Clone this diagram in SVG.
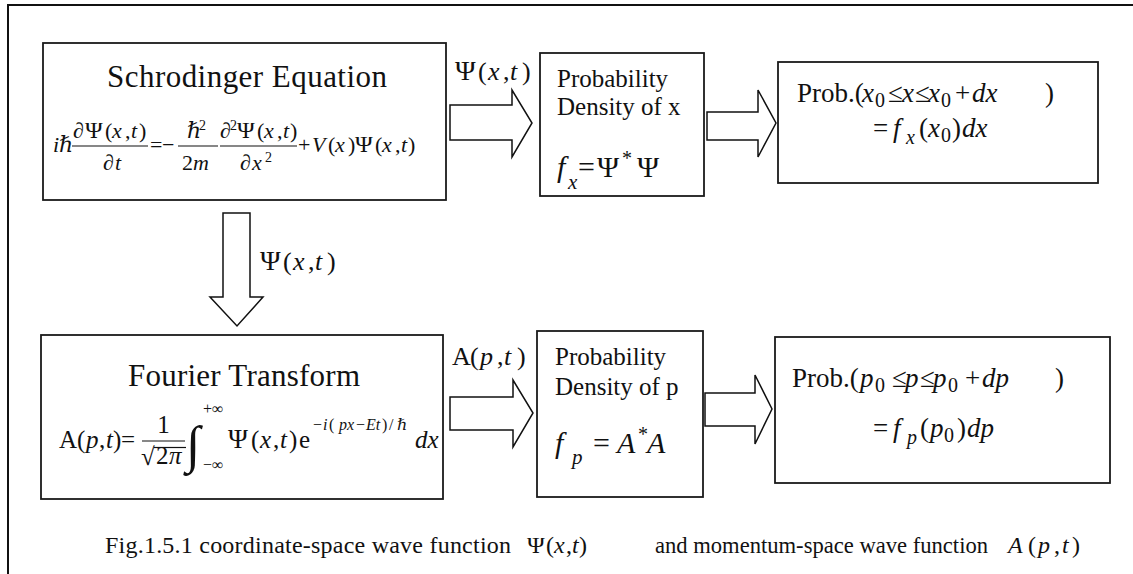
<svg xmlns="http://www.w3.org/2000/svg" width="1133" height="574" viewBox="0 0 1133 574">
<style>
text{font-family:"Liberation Serif","Times New Roman","DejaVu Serif",serif;fill:#111;}
.box{fill:#fff;stroke:#1a1a1a;stroke-width:1.8;}
.arr{fill:#fff;stroke:#111;stroke-width:1.5;stroke-linejoin:miter;}
.bar{stroke:#111;stroke-width:1.2;}
.t{font-size:31px;}
.p{font-size:25px;}
.m{font-size:22px;}
.mp{font-size:24px;}
.ms{font-size:14px;}
.mf{font-size:25px;}
.fp{font-size:27px;}
.l{font-size:26px;}
.lp{font-size:28px;}
.r{font-size:27px;}
.s{font-size:16px;}
.cap{font-size:24px;}
.i{font-style:italic;}
</style>
<rect width="1133" height="574" fill="#fff"/>
<path d="M8,574 V5 H1133" fill="none" stroke="#111" stroke-width="2"/>

<g id="connectors">
<polygon class="arr" points="450,105 512,105 512,90 532,123 512,157 512,140 450,140"/>
<polygon class="arr" points="707,112 758,112 758,90 776,123 758,157 758,140 707,140"/>
<polygon class="arr" points="223,213 250,213 250,297 263,297 237,326 210,297 223,297"/>
<polygon class="arr" points="450,397 513,397 513,380 533,413 513,447 513,430 450,430"/>
<polygon class="arr" points="705,393 755,393 755,375 772,409 755,444 755,426 705,426"/>
<text class="l" y="80"><tspan x="455" class="lp">Ψ</tspan><tspan x="478">(</tspan><tspan x="488" class="i">x</tspan><tspan x="503">,</tspan><tspan x="510" class="i">t</tspan><tspan x="522">)</tspan></text>
<text class="l" y="270"><tspan x="260" class="lp">Ψ</tspan><tspan x="283">(</tspan><tspan x="293" class="i">x</tspan><tspan x="308">,</tspan><tspan x="315" class="i">t</tspan><tspan x="327">)</tspan></text>
<text class="l" y="365"><tspan x="452">A</tspan><tspan x="470">(</tspan><tspan x="480" class="i">p</tspan><tspan x="497">,</tspan><tspan x="504" class="i">t</tspan><tspan x="517">)</tspan></text>
</g>

<g id="schrodinger">
<rect class="box" x="43" y="43" width="403" height="157"/>
<text class="t" x="107" y="87" textLength="280">Schrodinger Equation</text>
<text class="m i" y="152"><tspan x="53">i</tspan><tspan x="59">ℏ</tspan></text>
<text class="m" y="138"><tspan x="73">∂</tspan><tspan x="85" class="mp">Ψ</tspan><tspan x="105">(</tspan><tspan x="112" class="i">x</tspan><tspan x="125">,</tspan><tspan x="131" class="i">t</tspan><tspan x="139">)</tspan></text>
<line class="bar" x1="72" y1="146" x2="148" y2="146"/>
<text class="m" y="170"><tspan x="103">∂</tspan><tspan x="115" class="i">t</tspan></text>
<text class="m" y="152"><tspan x="150">=</tspan><tspan x="162">−</tspan></text>
<text class="m" y="138"><tspan x="187" class="i">ℏ</tspan></text>
<text class="ms" x="199" y="130">2</text>
<line class="bar" x1="178" y1="146" x2="218" y2="146"/>
<text class="m" y="170"><tspan x="182">2</tspan><tspan x="193" class="i">m</tspan></text>
<text class="m" y="138"><tspan x="220">∂</tspan><tspan x="237" class="mp">Ψ</tspan><tspan x="257">(</tspan><tspan x="264" class="i">x</tspan><tspan x="277">,</tspan><tspan x="283" class="i">t</tspan><tspan x="290">)</tspan></text>
<text class="ms" x="230" y="130">2</text>
<line class="bar" x1="220" y1="146" x2="297" y2="146"/>
<text class="m" y="170"><tspan x="240">∂</tspan><tspan x="252" class="i">x</tspan></text>
<text class="ms" x="265" y="162">2</text>
<text class="m" y="152"><tspan x="298">+</tspan><tspan x="312" class="i">V</tspan><tspan x="328">(</tspan><tspan x="335" class="i">x</tspan><tspan x="348">)</tspan><tspan x="355" class="mp">Ψ</tspan><tspan x="375">(</tspan><tspan x="382" class="i">x</tspan><tspan x="395">,</tspan><tspan x="401" class="i">t</tspan><tspan x="408">)</tspan></text>
</g>

<g id="density-x">
<rect class="box" x="540" y="53" width="164" height="143"/>
<text class="p" x="557" y="87">Probability</text>
<text class="p" x="557" y="115">Density of x</text>
<text font-size="30" class="i" x="557" y="177">f</text>
<text font-size="21" class="i" x="568" y="189">x</text>
<text font-size="30" y="177"><tspan x="578">=</tspan><tspan x="597">Ψ</tspan><tspan x="637">Ψ</tspan></text>
<text font-size="20" x="622" y="165">*</text>
</g>

<g id="prob-x">
<rect class="box" x="778" y="62" width="320" height="121"/>
<text class="r" y="102"><tspan x="797">Prob.(</tspan><tspan x="862" class="i">x</tspan><tspan x="875" dy="5" font-size="20">0</tspan><tspan x="888" dy="-5">≤</tspan><tspan x="902" class="i">x</tspan><tspan x="915">≤</tspan><tspan x="928" class="i">x</tspan><tspan x="941" dy="5" font-size="20">0</tspan><tspan x="955" dy="-5">+</tspan><tspan x="972" class="i">dx</tspan><tspan x="1045">)</tspan></text>
<text class="r" y="137"><tspan x="873">=</tspan><tspan x="893" class="i">f</tspan><tspan x="906" dy="7" font-size="20" class="i">x</tspan><tspan x="919" dy="-7">(</tspan><tspan x="928" class="i">x</tspan><tspan x="941" dy="5" font-size="20">0</tspan><tspan x="952" dy="-5">)</tspan><tspan x="962" class="i">dx</tspan></text>
</g>

<g id="fourier">
<rect class="box" x="41" y="335" width="402" height="164"/>
<text class="t" x="128" y="386" textLength="232">Fourier Transform</text>
<text class="mf" y="448"><tspan x="59">A</tspan><tspan x="77">(</tspan><tspan x="86" class="i">p</tspan><tspan x="99">,</tspan><tspan x="106" class="i">t</tspan><tspan x="113">)</tspan><tspan x="121">=</tspan></text>
<text class="mf" x="163.5" y="433" text-anchor="middle">1</text>
<line class="bar" x1="142" y1="441" x2="185" y2="441"/>
<text class="mf" x="141" y="465">√</text>
<line class="bar" x1="154" y1="447.5" x2="186" y2="447.5"/>
<text class="mf" y="464"><tspan x="156">2</tspan><tspan x="169" class="i">π</tspan></text>
<text font-size="52" x="186" y="462">∫</text>
<text class="s" x="203" y="414">+∞</text>
<text class="s" x="203" y="470">−∞</text>
<text class="mf" y="448"><tspan x="228" class="fp">Ψ</tspan><tspan x="251">(</tspan><tspan x="260" class="i">x</tspan><tspan x="273">,</tspan><tspan x="280" class="i">t</tspan><tspan x="289">)</tspan><tspan x="299">e</tspan></text>
<text class="s" y="430"><tspan x="313">−</tspan><tspan x="323" class="i">i</tspan><tspan x="329">(</tspan><tspan x="339" class="i">px</tspan><tspan x="356">−</tspan><tspan x="366" class="i">Et</tspan><tspan x="382">)</tspan><tspan x="389">/</tspan><tspan x="397" class="i">ℏ</tspan></text>
<text class="mf i" x="415" y="448">dx</text>
</g>

<g id="density-p">
<rect class="box" x="537" y="331" width="166" height="166"/>
<text class="p" x="555" y="365">Probability</text>
<text class="p" x="555" y="395">Density of p</text>
<text font-size="30" class="i" x="555" y="453">f</text>
<text font-size="21" class="i" x="572" y="464">p</text>
<text font-size="30" y="453"><tspan x="593">=</tspan><tspan x="617" class="i">A</tspan><tspan x="647" class="i">A</tspan></text>
<text font-size="20" x="638" y="441">*</text>
</g>

<g id="prob-p">
<rect class="box" x="775" y="337" width="335" height="146"/>
<text class="r" y="387"><tspan x="792">Prob.(</tspan><tspan x="860" class="i">p</tspan><tspan x="875" dy="5" font-size="20">0</tspan><tspan x="892" dy="-5">≤</tspan><tspan x="905" class="i">p</tspan><tspan x="920">≤</tspan><tspan x="933" class="i">p</tspan><tspan x="948" dy="5" font-size="20">0</tspan><tspan x="965" dy="-5">+</tspan><tspan x="982" class="i">dp</tspan><tspan x="1055">)</tspan></text>
<text class="r" y="437"><tspan x="873">=</tspan><tspan x="893" class="i">f</tspan><tspan x="907" dy="7" font-size="20" class="i">p</tspan><tspan x="920" dy="-7">(</tspan><tspan x="930" class="i">p</tspan><tspan x="944" dy="5" font-size="20">0</tspan><tspan x="957" dy="-5">)</tspan><tspan x="967" class="i">dp</tspan></text>
</g>

<g id="caption">
<text class="cap" x="105" y="553" textLength="406">Fig.1.5.1 coordinate-space wave function</text>
<text class="cap" y="553"><tspan x="527">Ψ</tspan><tspan x="546">(</tspan><tspan x="554" class="i">x</tspan><tspan x="566">,</tspan><tspan x="572" class="i">t</tspan><tspan x="579">)</tspan></text>
<text class="cap" x="655" y="553" textLength="333" lengthAdjust="spacingAndGlyphs">and momentum-space wave function</text>
<text class="cap" y="553"><tspan x="1008" class="i">A</tspan><tspan x="1028">(</tspan><tspan x="1038" class="i">p</tspan><tspan x="1054">,</tspan><tspan x="1062" class="i">t</tspan><tspan x="1072">)</tspan></text>
</g>
</svg>
